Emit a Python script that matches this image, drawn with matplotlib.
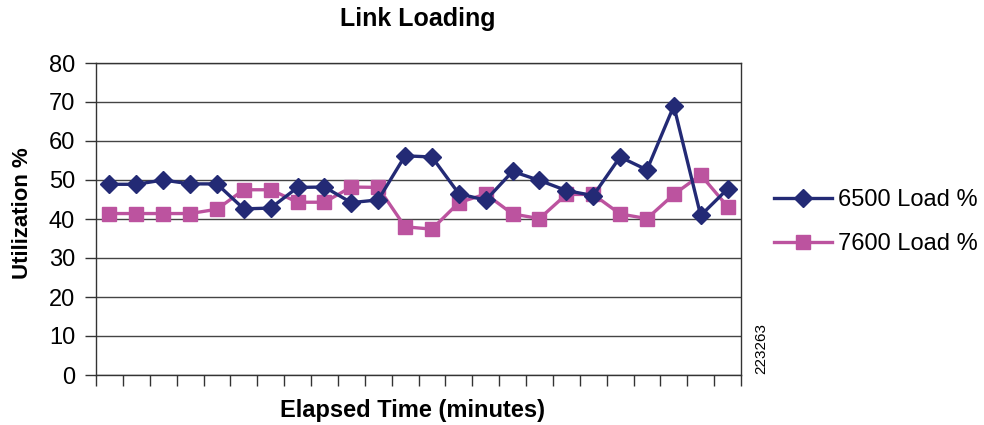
import matplotlib
matplotlib.use("Agg")
import matplotlib.pyplot as plt
import numpy as np

plt.rcParams['font.family'] = ['Liberation Sans', 'DejaVu Sans']

series_6500 = [48.9, 48.9, 50.0, 49.0, 49.0, 42.6, 42.8, 48.1, 48.2, 44.2, 44.9, 56.2,
               55.9, 46.5, 44.8, 52.2, 49.9, 47.3, 46.0, 55.9, 52.6, 69.0, 40.9, 47.7]
series_7600 = [41.4, 41.4, 41.4, 41.4, 42.5, 47.5, 47.5, 44.3, 44.3, 48.2, 48.1, 38.0,
               37.4, 44.2, 46.4, 41.3, 40.1, 46.3, 46.3, 41.3, 40.1, 46.3, 51.3, 43.2]
labels = ["6500 Load %", "7600 Load %"]
title = "Link Loading"
xlabel = "Elapsed Time (minutes)"
ylabel = "Utilization %"
yticks = [0, 10, 20, 30, 40, 50, 60, 70, 80]

navy = "#232a75"
pink = "#bc539f"

fig = plt.figure(figsize=(9.84, 4.25), dpi=100)
ax = fig.add_axes([96/984, 1-375/425, (741-96)/984, (375-63)/425])

n = len(series_6500)
x = np.arange(n)
ax.plot(x, series_6500, color=navy, lw=2.4, marker='D', ms=9, mfc=navy, mec=navy, label=labels[0], zorder=4)
ax.plot(x, series_7600, color=pink, lw=2.4, marker='s', ms=10, mfc=pink, mec=pink, label=labels[1], zorder=3)

ax.set_xlim(-0.5, n - 0.5)
ax.set_ylim(0, 80)
ax.set_yticks(yticks)
ax.set_yticklabels([str(t) for t in yticks], fontsize=17)
ax.set_xticks(np.arange(n + 1) - 0.5)
ax.set_xticklabels([])
ax.tick_params(axis='y', direction='out', length=8, width=1, pad=7, color='#333333')
ax.tick_params(axis='x', direction='out', length=8, width=1, color='#333333')
ax.grid(axis='y', color='#444444', lw=1)
ax.set_axisbelow(True)
for s in ax.spines.values():
    s.set_color('#333333')
    s.set_linewidth(1)

fig.text(418/984, 1-19/425, title, fontsize=18, fontweight='bold', ha='center', va='center')
fig.text(413/984, 1-410/425, xlabel, fontsize=17, fontweight='bold', ha='center', va='center')
fig.text(23/984, 1-213/425, ylabel, fontsize=16, fontweight='bold', ha='center', va='center', rotation=90)

fig.legend(loc='center left', bbox_to_anchor=(753/984, 1-222/425), frameon=False,
           fontsize=17, handlelength=2.45, labelspacing=0.95, handletextpad=0.25)

fig.text(761/984, 1-348/425, "223263", rotation=90, fontsize=11, ha='center', va='center')

fig.savefig("out.png", dpi=100)
